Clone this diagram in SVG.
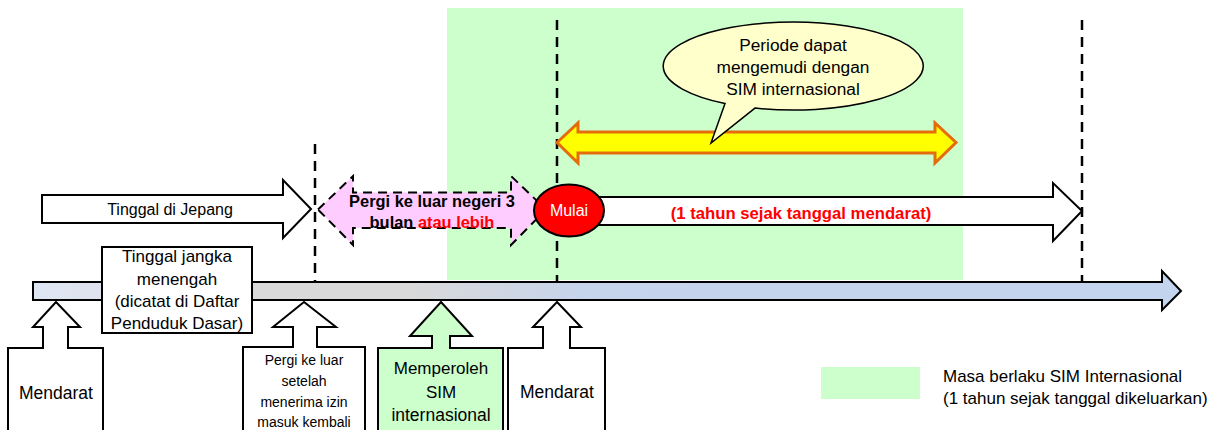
<svg xmlns="http://www.w3.org/2000/svg" width="1220" height="430" viewBox="0 0 1220 430">
  <defs>
    <linearGradient id="tl" x1="33" y1="0" x2="1181" y2="0" gradientUnits="userSpaceOnUse">
      <stop offset="0" stop-color="#dfe6f4"/>
      <stop offset="0.2" stop-color="#d9d9d9"/>
      <stop offset="0.33" stop-color="#d9d9d9"/>
      <stop offset="0.48" stop-color="#c6d4ec"/>
      <stop offset="1" stop-color="#c3d4ee"/>
    </linearGradient>
    <style>
      text { font-family: "Liberation Sans", Arial, sans-serif; fill: #000; }
      .blk { fill: #fff; stroke: #000; stroke-width: 2; stroke-linejoin: miter; }
      .grn { fill: #ccffcc; stroke: #000; stroke-width: 2; }
      .dash { stroke: #000; stroke-width: 2.5; stroke-dasharray: 10 7; fill: none; }
      .c { text-anchor: middle; }
      .b { font-weight: bold; }
      .red { fill: #ff0000; }
    </style>
  </defs>

  <rect id="validity-bg" x="447" y="8" width="516" height="272" fill="#ccffcc"/>

  <g id="dashed-lines">
    <line class="dash" x1="315" y1="144" x2="315" y2="282"/>
    <line class="dash" x1="557" y1="20" x2="557" y2="282"/>
    <line class="dash" x1="1082" y1="20" x2="1082" y2="282"/>
  </g>

  <g id="timeline">
    <polygon points="33,282 1162,282 1162,271 1181,291 1162,310 1162,300 33,300" fill="url(#tl)" stroke="#000" stroke-width="2"/>
  </g>

  <g id="tinggal-jepang">
    <polygon class="blk" points="42,195 283,195 283,180 311,209 283,238 283,223 42,223"/>
    <text class="c" x="170" y="215" font-size="16">Tinggal di Jepang</text>
  </g>

  <g id="tinggal-jangka">
    <rect class="blk" x="102" y="247" width="150" height="86"/>
    <text class="c" x="177" y="262" font-size="17">Tinggal jangka</text>
    <text class="c" x="177" y="285" font-size="17">menengah</text>
    <text class="c" x="177" y="307" font-size="17">(dicatat di Daftar</text>
    <text class="c" x="177" y="329" font-size="17">Penduduk Dasar)</text>
  </g>

  <g id="pergi-luar-negeri">
    <polygon points="318,209.5 353,176 353,192.5 511,192.5 511,176 546,209.5 511,245 511,228 353,228 353,245" fill="#ffccff" stroke="#000" stroke-width="2" stroke-dasharray="9 6"/>
    <text class="c b" x="432" y="207" font-size="16.4">Pergi ke luar negeri 3</text>
    <text class="c b" x="432" y="228" font-size="16.4">bulan <tspan class="red">atau lebih</tspan></text>
  </g>

  <g id="satu-tahun">
    <polygon class="blk" points="590,197 1053,197 1053,183 1082,211 1053,241 1053,225 590,225"/>
    <text class="c b red" x="801" y="219" font-size="16.7">(1 tahun sejak tanggal mendarat)</text>
  </g>

  <g id="mulai">
    <ellipse cx="569" cy="210.5" rx="35" ry="26" fill="#ff0000" stroke="#000" stroke-width="2"/>
    <text class="c" x="569" y="216" font-size="16" style="fill:#fff">Mulai</text>
  </g>

  <g id="periode-arrow">
    <polygon points="557,142.5 578,123 578,132 935,132 935,123 956,142.5 935,163 935,153 578,153 578,163" fill="#ffff00" stroke="#e46c0a" stroke-width="3" stroke-linejoin="miter"/>
  </g>

  <g id="periode-bubble">
    <path d="M 725 103.5 A 130 44 0 1 1 755 108.1 L 711 143 Z" fill="#ffffcc" stroke="#000" stroke-width="1.5"/>
    <text class="c" x="793" y="51" font-size="17.3">Periode dapat</text>
    <text class="c" x="793" y="73" font-size="17.3">mengemudi dengan</text>
    <text class="c" x="793" y="95" font-size="17.3">SIM internasional</text>
  </g>

  <g id="mendarat-1">
    <path class="blk" d="M 8 440 L 8 348 L 43 348 L 43 327 L 33 327 L 56 302 L 80 327 L 68 327 L 68 348 L 103 348 L 103 440"/>
    <text class="c" x="56" y="399" font-size="17.5">Mendarat</text>
  </g>

  <g id="pergi-izin">
    <path class="blk" d="M 243 440 L 243 347 L 293 347 L 293 327 L 273 327 L 304 302 L 336 327 L 317 327 L 317 347 L 365 347 L 365 440"/>
    <text class="c" x="304" y="365" font-size="14">Pergi ke luar</text>
    <text class="c" x="304" y="386" font-size="14">setelah</text>
    <text class="c" x="304" y="407" font-size="14">menerima izin</text>
    <text class="c" x="304" y="427" font-size="14">masuk kembali</text>
  </g>

  <g id="memperoleh-sim">
    <path class="grn" d="M 378 440 L 378 348 L 432 348 L 432 336 L 410 336 L 441 302 L 472 336 L 450 336 L 450 348 L 503 348 L 503 440"/>
    <text class="c" x="441" y="374" font-size="17">Memperoleh</text>
    <text class="c" x="441" y="398" font-size="17">SIM</text>
    <text class="c" x="441" y="421" font-size="17.5">internasional</text>
  </g>

  <g id="mendarat-2">
    <path class="blk" d="M 508 440 L 508 348 L 543 348 L 543 327 L 533 327 L 557 302 L 581 327 L 570 327 L 570 348 L 605 348 L 605 440"/>
    <text class="c" x="557" y="398" font-size="17.5">Mendarat</text>
  </g>

  <g id="legend">
    <rect x="821" y="367" width="99" height="32" fill="#ccffcc"/>
    <text x="943" y="382" font-size="17">Masa berlaku SIM Internasional</text>
    <text x="943" y="404" font-size="17">(1 tahun sejak tanggal dikeluarkan)</text>
  </g>
</svg>
